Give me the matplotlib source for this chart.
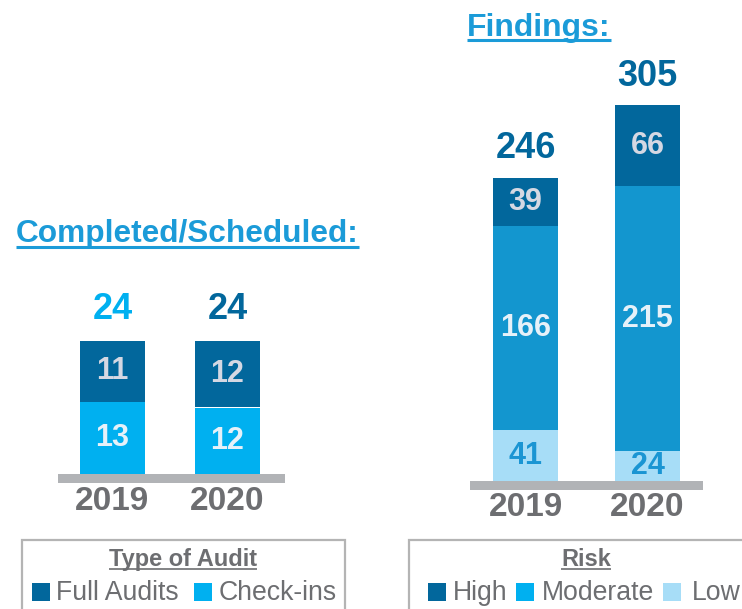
import matplotlib
matplotlib.use("Agg")
import matplotlib.pyplot as plt
from matplotlib.patches import Rectangle
from matplotlib.lines import Line2D
import numpy as np

plt.rcParams["font.family"] = ["Liberation Sans", "DejaVu Sans"]

# ---- data ----
years = ["2019", "2020"]
full_audits = [11, 12]
check_ins = [13, 12]
audit_totals = [24, 24]

risk_low = [41, 24]
risk_moderate = [166, 215]
risk_high = [39, 66]
risk_totals = [246, 305]

# ---- colours ----
DARK = "#02679c"
CYAN = "#00b0f0"
MOD_BAR = "#1396cf"
LOW = "#a7ddf7"
GREY_TXT = "#6d6e71"
BASE_GREY = "#b1b3b6"
TITLE_C = "#1b9bd8"
LBL_DARK = "#d5d8e3"
LBL_LIGHT = "#e6f1f9"

W, H = 742, 609
fig = plt.figure(figsize=(W / 100, H / 100), dpi=100)


def px_axes(x0, x1, ytop, ybot):
    """axes placed with pixel coords (y measured from the top)."""
    return fig.add_axes([x0 / W, 1 - ybot / H, (x1 - x0) / W, (ybot - ytop) / H])


def bar_panel(x0, x1, c0, step, base_px, scale, ytop, band=8.5):
    ax = px_axes(x0, x1, ytop, base_px + band + 1)
    ax.set_xlim((x0 - c0) / step, (x1 - c0) / step)
    ax.set_ylim(-(band + 1) / scale, (base_px - ytop) / scale)
    ax.axhspan(-band / scale, 0, color=BASE_GREY, lw=0)
    ax.axis("off")
    return ax


def seg_label(ax, x, bottom, h, txt, color):
    ax.text(x, bottom + h / 2, txt, ha="center", va="center", fontsize=22,
            fontweight="bold", color=color)


def under(t, y_px, lw, color):
    fig.canvas.draw()
    bb = t.get_window_extent()
    fig.add_artist(Line2D([bb.x0 / W, bb.x1 / W], [1 - y_px / H] * 2,
                          transform=fig.transFigure, color=color, lw=lw,
                          solid_capstyle="butt"))


x = np.arange(len(years))

# ---- left: completed / scheduled ----
axL = bar_panel(58, 285, 112.5, 115, 474, 133 / 24, 250)
bwL = 65 / 115
axL.bar(x, check_ins, bwL, color=CYAN)
axL.bar(x, full_audits, bwL, bottom=check_ins, color=DARK)
for i in range(len(years)):
    seg_label(axL, x[i], 0, check_ins[i], str(check_ins[i]), LBL_LIGHT)
    seg_label(axL, x[i], check_ins[i], full_audits[i], str(full_audits[i]), LBL_DARK)
    axL.annotate(str(audit_totals[i]), (x[i], audit_totals[i]), xytext=(0, 31),
                 textcoords="offset pixels", ha="center", va="center",
                 fontsize=26, fontweight="bold", color=[CYAN, DARK][i])
    axL.annotate(years[i], (x[i], 0), xytext=(0, -28), textcoords="offset pixels",
                 ha="center", va="center", fontsize=24, fontweight="bold",
                 color=GREY_TXT)

# ---- right: findings ----
axR = bar_panel(470, 703, 525.5, 122, 481, 376 / 305, 20)
bwR = 65 / 122
axR.bar(x, risk_low, bwR, color=LOW)
axR.bar(x, risk_moderate, bwR, bottom=risk_low, color=MOD_BAR)
mid = np.array(risk_low) + np.array(risk_moderate)
axR.bar(x, risk_high, bwR, bottom=mid, color=DARK)
for i in range(len(years)):
    seg_label(axR, x[i], 0, risk_low[i], str(risk_low[i]), "#1a95d3")
    seg_label(axR, x[i], risk_low[i], risk_moderate[i], str(risk_moderate[i]), LBL_LIGHT)
    seg_label(axR, x[i], mid[i], risk_high[i], str(risk_high[i]), LBL_DARK)
    axR.annotate(str(risk_totals[i]), (x[i], risk_totals[i]), xytext=(0, 29),
                 textcoords="offset pixels", ha="center", va="center",
                 fontsize=26, fontweight="bold", color=DARK)
    axR.annotate(years[i], (x[i], 0), xytext=(0, -27), textcoords="offset pixels",
                 ha="center", va="center", fontsize=24, fontweight="bold",
                 color=GREY_TXT)

# ---- titles ----
t1 = fig.text(16 / W, 1 - 242 / H, "Completed/Scheduled:", ha="left", va="baseline",
              fontsize=22.8, fontweight="bold", color=TITLE_C)
t2 = fig.text(467 / W, 1 - 36 / H, "Findings:", ha="left", va="baseline",
              fontsize=23, fontweight="bold", color=TITLE_C)
under(t1, 246.5, 2.2, TITLE_C)
under(t2, 39.5, 2.2, TITLE_C)

# ---- legends (boxed, drawn by hand) ----
def legend_box(x0, x1, title, title_cx, items):
    fig.add_artist(Rectangle((x0 / W, -0.01), (x1 - x0) / W, 1 - 540 / H + 0.01,
                             transform=fig.transFigure, fill=False,
                             edgecolor="#b4b4b4", lw=1.6))
    tt = fig.text(title_cx / W, 1 - 566 / H, title, ha="center", va="baseline",
                  fontsize=17, fontweight="bold", color=GREY_TXT)
    under(tt, 569, 1.2, GREY_TXT)
    for sx, tx, label, col in items:
        fig.add_artist(Rectangle((sx / W, 1 - 601 / H), 18 / W, 18 / H,
                                 transform=fig.transFigure, color=col, lw=0))
        fig.text(tx / W, 1 - 600 / H, label, ha="left", va="baseline",
                 fontsize=19.2, color=GREY_TXT)


legend_box(22, 345, "Type of Audit", 183,
           [(32, 56, "Full Audits", DARK), (194, 219, "Check-ins", CYAN)])
legend_box(409, 760, "Risk", 586,
           [(428, 453, "High", DARK), (516, 542, "Moderate", CYAN),
            (663, 692, "Low", LOW)])

fig.savefig("out.png", dpi=100)
